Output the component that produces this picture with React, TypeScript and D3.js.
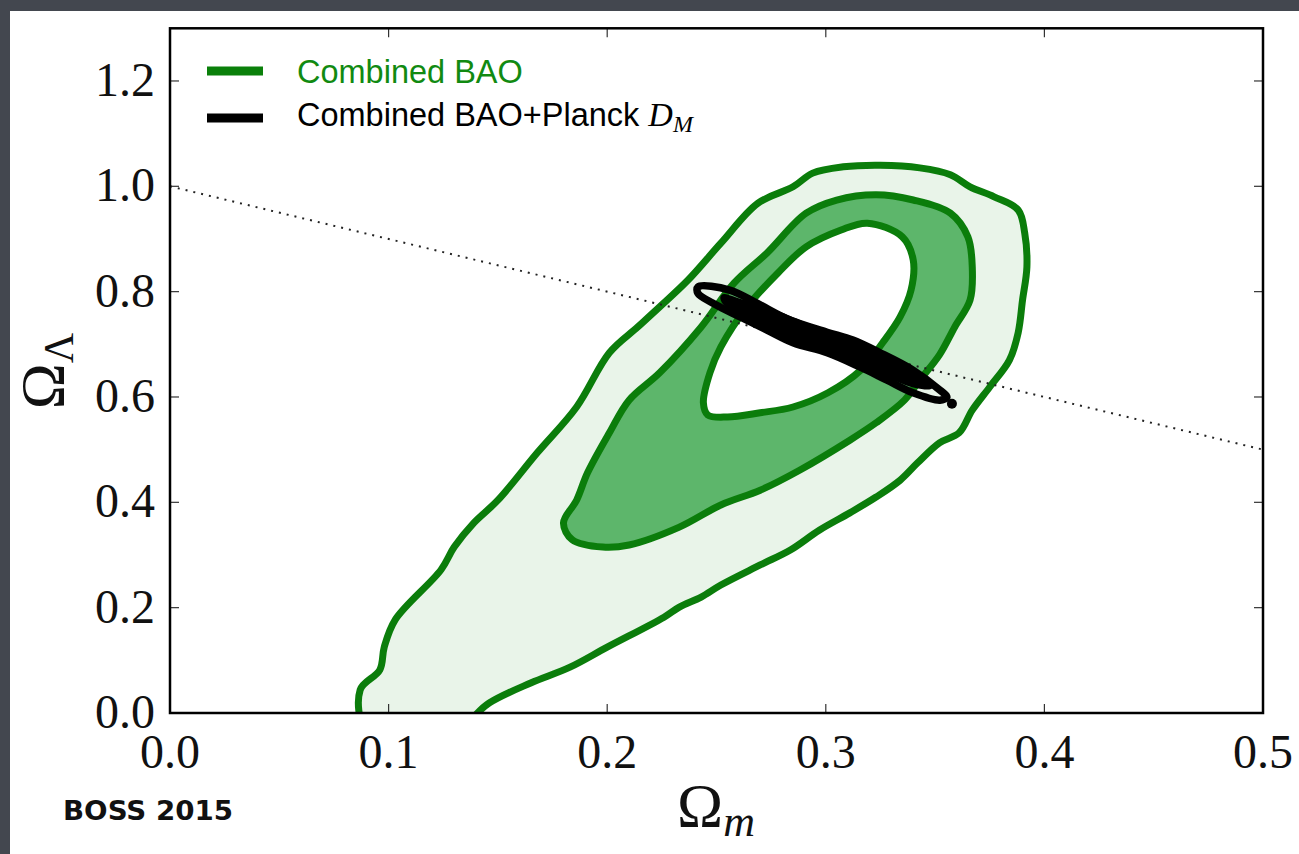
import React from 'react';
import * as d3 from 'd3';

type P = [number, number];

const xTickValues = [0, 0.1, 0.2, 0.3, 0.4, 0.5];
const yTickValues = [0, 0.2, 0.4, 0.6, 0.8, 1.0, 1.2];

// 95% contour, Combined BAO (Ω_m, Ω_Λ)
const bao95: P[] = [
  [0.090, -0.03], [0.087, 0.044], [0.096, 0.082], [0.098, 0.125], [0.103, 0.177],
  [0.124, 0.272], [0.130, 0.315], [0.139, 0.361], [0.150, 0.404], [0.168, 0.494],
  [0.186, 0.581], [0.201, 0.684], [0.214, 0.733], [0.224, 0.771], [0.237, 0.822],
  [0.252, 0.892], [0.269, 0.968], [0.285, 0.999], [0.294, 1.025], [0.308, 1.037],
  [0.325, 1.040], [0.343, 1.035], [0.357, 1.022], [0.366, 0.999], [0.377, 0.980],
  [0.388, 0.955], [0.391, 0.911], [0.392, 0.847], [0.390, 0.784], [0.388, 0.722],
  [0.384, 0.670], [0.375, 0.619], [0.367, 0.575], [0.361, 0.532], [0.352, 0.513],
  [0.342, 0.475], [0.334, 0.442], [0.323, 0.410], [0.311, 0.380], [0.297, 0.347],
  [0.284, 0.310], [0.270, 0.281], [0.252, 0.243], [0.243, 0.220], [0.233, 0.201],
  [0.226, 0.182], [0.200, 0.125], [0.183, 0.087], [0.165, 0.057], [0.146, 0.019],
  [0.131, -0.03],
];

// 68% contour, Combined BAO
const bao68: P[] = [
  [0.180, 0.361], [0.186, 0.404], [0.191, 0.456], [0.201, 0.532], [0.210, 0.594],
  [0.224, 0.646], [0.243, 0.733], [0.258, 0.816], [0.273, 0.873], [0.291, 0.949],
  [0.305, 0.974], [0.323, 0.984], [0.340, 0.974], [0.357, 0.949], [0.365, 0.904],
  [0.367, 0.847], [0.366, 0.784], [0.359, 0.733], [0.352, 0.680], [0.343, 0.632],
  [0.336, 0.594], [0.323, 0.551], [0.311, 0.518], [0.288, 0.461], [0.270, 0.423],
  [0.252, 0.395], [0.233, 0.353], [0.210, 0.319], [0.198, 0.315], [0.184, 0.329],
];

// inner (unfilled) level, Combined BAO
const baoInner: P[] = [
  [0.244, 0.589], [0.247, 0.646], [0.252, 0.695], [0.264, 0.771], [0.278, 0.835],
  [0.291, 0.885], [0.307, 0.917], [0.319, 0.930], [0.335, 0.904], [0.340, 0.860],
  [0.339, 0.803], [0.334, 0.752], [0.326, 0.703], [0.316, 0.651], [0.301, 0.608],
  [0.285, 0.581], [0.270, 0.570], [0.255, 0.562], [0.246, 0.566],
];

// Combined BAO + Planck D_M
const planck95: P[] = [
  [0.2415, 0.809], [0.256, 0.803], [0.2685, 0.778], [0.2836, 0.746], [0.3006, 0.723],
  [0.3124, 0.708], [0.3248, 0.684], [0.3399, 0.651], [0.3522, 0.613], [0.3554, 0.600],
  [0.3522, 0.594], [0.3399, 0.608], [0.328, 0.632], [0.3156, 0.657], [0.3006, 0.684],
  [0.285, 0.703], [0.2731, 0.727], [0.2608, 0.752], [0.2484, 0.778], [0.2415, 0.797],
];
const planck68: P[] = [
  [0.253, 0.790], [0.262, 0.780], [0.275, 0.763], [0.2882, 0.741], [0.3065, 0.711],
  [0.3248, 0.677], [0.3408, 0.640], [0.348, 0.620], [0.3408, 0.622], [0.3248, 0.648],
  [0.3065, 0.679], [0.2882, 0.706], [0.275, 0.728], [0.262, 0.758], [0.254, 0.778],
];
const planckDot: P = [0.3577, 0.587];

const flatLine: P[] = [[0, 1], [0.5, 0.5]];

const legendLabels = ['Combined BAO', 'Combined BAO+Planck '];

export default function App() {
  const W = 1299, H = 854;
  const left = 170, right = 1263, top = 28.3, bottom = 713;
  const x = d3.scaleLinear().domain([0, 0.5]).range([left, right]);
  const y = d3.scaleLinear().domain([0, 1.3]).range([bottom, top]);
  const closed = d3.line<P>().x(d => x(d[0])).y(d => y(d[1])).curve(d3.curveCatmullRomClosed.alpha(0.5));
  const open = d3.line<P>().x(d => x(d[0])).y(d => y(d[1]));

  const green = '#0b7d0b';
  const serif = '"Liberation Serif", "Times New Roman", serif';
  const sans = '"Liberation Sans", Arial, sans-serif';

  return (
    <svg width={W} height={H} style={{ position: 'fixed', left: 0, top: 0 }}>
      <defs>
        <clipPath id="plotclip">
          <rect x={left} y={top} width={right - left} height={bottom - top} />
        </clipPath>
      </defs>
      <rect x={0} y={0} width={W} height={H} fill="#43474f" />
      <rect x={10} y={11} width={W - 10} height={H - 11} fill="#ffffff" />

      <g clipPath="url(#plotclip)">
        <path d={closed(bao95) || ''} fill="#e9f4e9" stroke={green} strokeWidth={7} strokeLinejoin="round" />
        <path d={closed(bao68) || ''} fill="#5db66b" stroke={green} strokeWidth={7} strokeLinejoin="round" />
        <path d={closed(baoInner) || ''} fill="#ffffff" stroke={green} strokeWidth={7} strokeLinejoin="round" />
        <path d={open(flatLine) || ''} fill="none" stroke="#222" strokeWidth={2} strokeDasharray="2 6" />
        <path d={closed(planck95) || ''} fill="none" stroke="#000" strokeWidth={7.5} strokeLinejoin="round" />
        <path d={closed(planck68) || ''} fill="#000" stroke="#000" strokeWidth={5} strokeLinejoin="round" />
        <circle cx={x(planckDot[0])} cy={y(planckDot[1])} r={5} fill="#000" />
      </g>

      {/* ticks */}
      {xTickValues.map(v => (
        <g key={'xt' + v}>
          <line x1={x(v)} x2={x(v)} y1={bottom} y2={bottom - 9} stroke="#333" strokeWidth={1.2} />
          <line x1={x(v)} x2={x(v)} y1={top} y2={top + 9} stroke="#333" strokeWidth={1.2} />
          <text x={x(v)} y={768} textAnchor="middle" fontFamily={serif} fontSize={48} fill="#111">{v.toFixed(1)}</text>
        </g>
      ))}
      {yTickValues.map(v => (
        <g key={'yt' + v}>
          <line x1={left} x2={left + 9} y1={y(v)} y2={y(v)} stroke="#333" strokeWidth={1.2} />
          <line x1={right} x2={right - 9} y1={y(v)} y2={y(v)} stroke="#333" strokeWidth={1.2} />
          <text x={155} y={y(v) + 15} textAnchor="end" fontFamily={serif} fontSize={48} fill="#111">{v.toFixed(1)}</text>
        </g>
      ))}

      <rect x={left} y={top} width={right - left} height={bottom - top} fill="none" stroke="#000" strokeWidth={2.5} />

      {/* legend */}
      <line x1={207} x2={263} y1={71} y2={71} stroke="#0a800a" strokeWidth={9} />
      <text x={297} y={83} fontFamily={sans} fontSize={32.5} fill="#118a11">{legendLabels[0]}</text>
      <line x1={207} x2={263} y1={118} y2={118} stroke="#000" strokeWidth={9} />
      <text x={297} y={126} fontFamily={sans} fontSize={32.5} fill="#000">
        {legendLabels[1]}
        <tspan fontFamily={serif} fontStyle="italic" fontSize={34}>D</tspan>
        <tspan fontFamily={serif} fontStyle="italic" fontSize={24} dy={6}>M</tspan>
      </text>

      {/* axis labels */}
      <text x={716} y={826} textAnchor="middle" fontFamily={serif} fontSize={62} fill="#111">
        Ω<tspan fontStyle="italic" fontSize={44} dy={10}>m</tspan>
      </text>
      <text transform="translate(63,371) rotate(-90)" textAnchor="middle" fontFamily={serif} fontSize={62} fill="#111">
        Ω<tspan fontSize={42} dy={10}>Λ</tspan>
      </text>

      <text x={63} y={820} fontFamily='"DejaVu Sans", sans-serif' fontWeight="bold" fontSize={27} textLength={170} lengthAdjust="spacingAndGlyphs" fill="#111">BOSS 2015</text>
    </svg>
  );
}
